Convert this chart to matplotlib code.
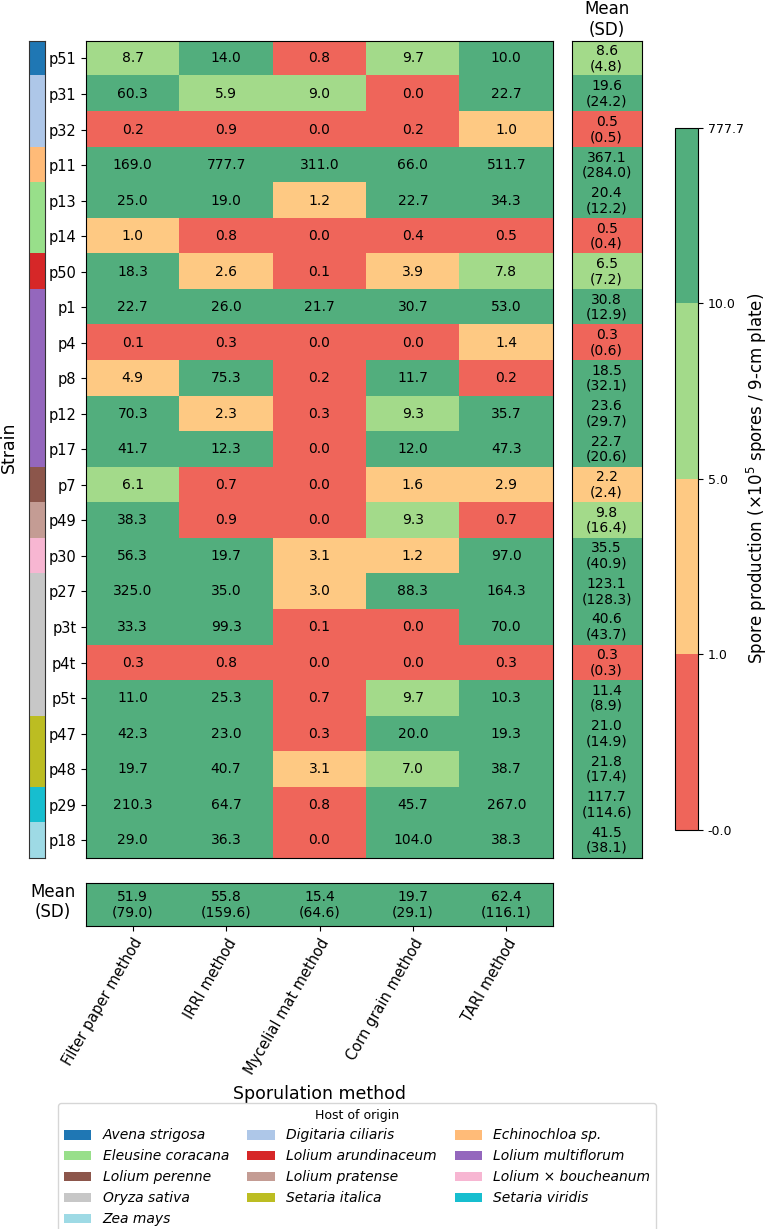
import numpy as np
import matplotlib
matplotlib.use("Agg")
import matplotlib.pyplot as plt
from matplotlib.colors import ListedColormap, BoundaryNorm
from matplotlib.patches import Patch
from matplotlib.cm import ScalarMappable

strains = ["p51", "p31", "p32", "p11", "p13", "p14", "p50", "p1", "p4", "p8", "p12", "p17",
           "p7", "p49", "p30", "p27", "p3t", "p4t", "p5t", "p47", "p48", "p29", "p18"]
methods = ["Filter paper method", "IRRI method", "Mycelial mat method", "Corn grain method", "TARI method"]

filter_paper = [8.7, 60.3, 0.2, 169.0, 25.0, 1.0, 18.3, 22.7, 0.1, 4.9, 70.3, 41.7,
                6.1, 38.3, 56.3, 325.0, 33.3, 0.3, 11.0, 42.3, 19.7, 210.3, 29.0]
irri = [14.0, 5.9, 0.9, 777.7, 19.0, 0.8, 2.6, 26.0, 0.3, 75.3, 2.3, 12.3,
        0.7, 0.9, 19.7, 35.0, 99.3, 0.8, 25.3, 23.0, 40.7, 64.7, 36.3]
mycelial = [0.8, 9.0, 0.0, 311.0, 1.2, 0.0, 0.1, 21.7, 0.0, 0.2, 0.3, 0.0,
            0.0, 0.0, 3.1, 3.0, 0.1, 0.0, 0.7, 0.3, 3.1, 0.8, 0.0]
corn = [9.7, 0.0, 0.2, 66.0, 22.7, 0.4, 3.9, 30.7, 0.0, 11.7, 9.3, 12.0,
        1.6, 9.3, 1.2, 88.3, 0.0, 0.0, 9.7, 20.0, 7.0, 45.7, 104.0]
tari = [10.0, 22.7, 1.0, 511.7, 34.3, 0.5, 7.8, 53.0, 1.4, 0.2, 35.7, 47.3,
        2.9, 0.7, 97.0, 164.3, 70.0, 0.3, 10.3, 19.3, 38.7, 267.0, 38.3]

strain_mean = [8.6, 19.6, 0.5, 367.1, 20.4, 0.5, 6.5, 30.8, 0.3, 18.5, 23.6, 22.7,
               2.2, 9.8, 35.5, 123.1, 40.6, 0.3, 11.4, 21.0, 21.8, 117.7, 41.5]
strain_sd = [4.8, 24.2, 0.5, 284.0, 12.2, 0.4, 7.2, 12.9, 0.6, 32.1, 29.7, 20.6,
             2.4, 16.4, 40.9, 128.3, 43.7, 0.3, 8.9, 14.9, 17.4, 114.6, 38.1]
method_mean = [51.9, 55.8, 15.4, 19.7, 62.4]
method_sd = [79.0, 159.6, 64.6, 29.1, 116.1]

hosts = ["Avena strigosa", "Digitaria ciliaris", "Digitaria ciliaris", "Echinochloa sp.",
         "Eleusine coracana", "Eleusine coracana", "Lolium arundinaceum",
         "Lolium multiflorum", "Lolium multiflorum", "Lolium multiflorum", "Lolium multiflorum",
         "Lolium multiflorum", "Lolium perenne", "Lolium pratense", "Lolium × boucheanum",
         "Oryza sativa", "Oryza sativa", "Oryza sativa", "Oryza sativa",
         "Setaria italica", "Setaria italica", "Setaria viridis", "Zea mays"]
host_names = ["Avena strigosa", "Digitaria ciliaris", "Echinochloa sp.", "Eleusine coracana",
              "Lolium arundinaceum", "Lolium multiflorum", "Lolium perenne", "Lolium pratense",
              "Lolium × boucheanum", "Oryza sativa", "Setaria italica", "Setaria viridis", "Zea mays"]
host_colors = ["#1f77b4", "#aec7e8", "#ffbb78", "#98df8a", "#d62728", "#9467bd", "#8c564b",
               "#c49c94", "#f7b6d2", "#c7c7c7", "#bcbd22", "#17becf", "#9edae5"]

bounds = [0.0, 1.0, 5.0, 10.0, 777.7]
bound_labels = ["-0.0", "1.0", "5.0", "10.0", "777.7"]
bin_colors = ["#ef655a", "#fec983", "#a3da8a", "#52ae7d"]

cmap = ListedColormap(bin_colors)
norm = BoundaryNorm(bounds, cmap.N, clip=True)

W, H = 768, 1229
fig = plt.figure(figsize=(W / 100, H / 100), dpi=100)

def rect(x0, y0, x1, y1):
    return [x0 / W, 1 - y1 / H, (x1 - x0) / W, (y1 - y0) / H]

data = np.array([filter_paper, irri, mycelial, corn, tari]).T
nrow, ncol = data.shape

# main heatmap
ax = fig.add_axes(rect(86, 40.7, 553, 858))
ax.imshow(data, cmap=cmap, norm=norm, aspect="auto", interpolation="nearest")
for i in range(nrow):
    for j in range(ncol):
        ax.text(j, i, f"{data[i, j]:.1f}", ha="center", va="center", fontsize=10)
ax.set_yticks(range(nrow))
ax.set_yticklabels(strains, fontsize=10.5)
ax.set_xticks([])

# strain host bar
axs = fig.add_axes(rect(29, 40.7, 45, 858))
host_idx = np.array([[host_names.index(h)] for h in hosts])
axs.imshow(host_idx, cmap=ListedColormap(host_colors), vmin=-0.5, vmax=len(host_names) - 0.5,
           aspect="auto", interpolation="nearest")
axs.set_xticks([])
axs.set_yticks([])
for s in axs.spines.values():
    s.set_color("#333333")

# mean column
axm = fig.add_axes(rect(571.5, 40.7, 641.7, 858))
mcol = np.array(strain_mean)[:, None]
axm.imshow(mcol, cmap=cmap, norm=norm, aspect="auto", interpolation="nearest")
for i in range(nrow):
    axm.text(0, i, f"{strain_mean[i]:.1f}\n({strain_sd[i]:.1f})", ha="center", va="center",
             fontsize=10, linespacing=1.1)
axm.set_xticks([])
axm.set_yticks([])
axm.set_title("Mean\n(SD)", fontsize=12, pad=4)

# mean row
axr = fig.add_axes(rect(86, 883, 553, 926))
axr.imshow(np.array(method_mean)[None, :], cmap=cmap, norm=norm, aspect="auto",
           interpolation="nearest")
for j in range(ncol):
    axr.text(j, 0, f"{method_mean[j]:.1f}\n({method_sd[j]:.1f})", ha="center", va="center",
             fontsize=10, linespacing=1.1)
axr.set_yticks([])
axr.set_xticks(range(ncol))
axr.set_xticklabels(methods, rotation=60, ha="right", rotation_mode="anchor", fontsize=10.5)
axr.set_xlabel("Sporulation method", fontsize=12.5, labelpad=6)
fig.text(53 / W, 1 - 902 / H, "Mean\n(SD)", ha="center", va="center", fontsize=12)

fig.text(9 / W, 1 - 447 / H, "Strain", rotation=90, ha="center", va="center", fontsize=12.5)

# colorbar
cax = fig.add_axes(rect(675, 127.7, 698, 830))
cb = fig.colorbar(ScalarMappable(norm=norm, cmap=cmap), cax=cax, ticks=bounds,
                  spacing="uniform")
cb.ax.set_yticklabels(bound_labels, fontsize=9)
cb.set_label("Spore production (×10$^5$ spores / 9-cm plate)", fontsize=12, labelpad=0.5)

# legend
order = [0, 3, 6, 9, 12, 1, 4, 7, 10, 2, 5, 8, 11]
handles = [Patch(facecolor=host_colors[k], label=host_names[k]) for k in order]
fig.legend(handles=handles, loc="upper center", bbox_to_anchor=(357 / W, 1 - 1103 / H),
           ncol=3, title="Host of origin", title_fontsize=9, columnspacing=1.3,
           prop={"style": "italic", "size": 10}, borderaxespad=0)

fig.savefig("out.png", dpi=100)
